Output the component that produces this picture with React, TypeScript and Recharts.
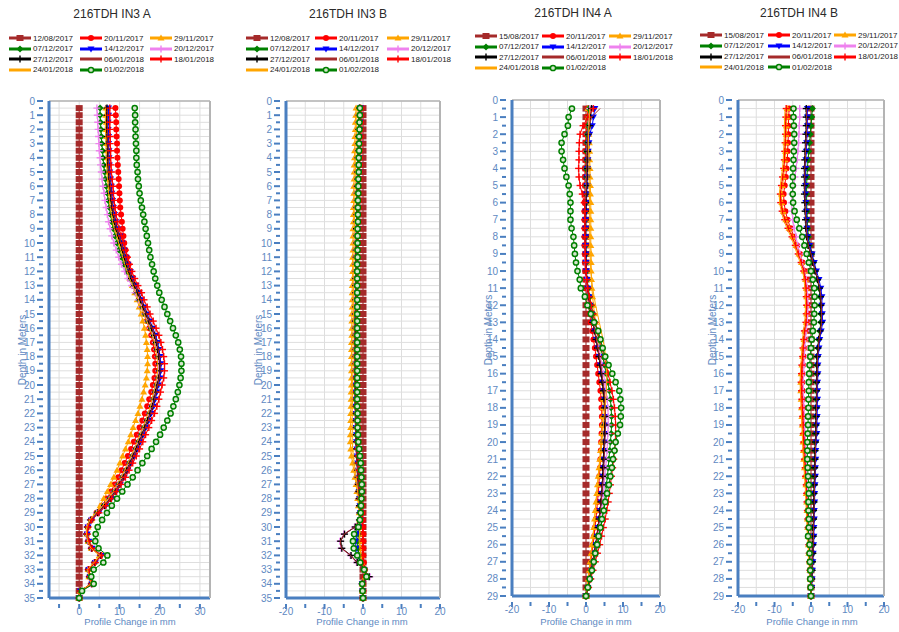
import { ScatterChart, Scatter, XAxis, YAxis, CartesianGrid } from 'recharts';

// Depth stations (m) – also used as the 0.5 m depth ticks
const DEPTH_IN3 = [0.5, 1, 1.5, 2, 2.5, 3, 3.5, 4, 4.5, 5, 5.5, 6, 6.5, 7, 7.5, 8, 8.5, 9, 9.5, 10, 10.5, 11, 11.5, 12, 12.5, 13, 13.5, 14, 14.5, 15, 15.5, 16, 16.5, 17, 17.5, 18, 18.5, 19, 19.5, 20, 20.5, 21, 21.5, 22, 22.5, 23, 23.5, 24, 24.5, 25, 25.5, 26, 26.5, 27, 27.5, 28, 28.5, 29, 29.5, 30, 30.5, 31, 31.5, 32, 32.5, 33, 33.5, 34, 34.5, 35];
const DEPTH_IN4 = [0.5, 1, 1.5, 2, 2.5, 3, 3.5, 4, 4.5, 5, 5.5, 6, 6.5, 7, 7.5, 8, 8.5, 9, 9.5, 10, 10.5, 11, 11.5, 12, 12.5, 13, 13.5, 14, 14.5, 15, 15.5, 16, 16.5, 17, 17.5, 18, 18.5, 19, 19.5, 20, 20.5, 21, 21.5, 22, 22.5, 23, 23.5, 24, 24.5, 25, 25.5, 26, 26.5, 27, 27.5, 28, 28.5, 29];

const DATES_IN3 = ['12/08/2017', '20/11/2017', '29/11/2017', '07/12/2017', '14/12/2017', '20/12/2017', '27/12/2017', '06/01/2018', '18/01/2018', '24/01/2018', '01/02/2018'];
const DATES_IN4 = ['15/08/2017', '20/11/2017', '29/11/2017', '07/12/2017', '14/12/2017', '20/12/2017', '27/12/2017', '06/01/2018', '18/01/2018', '24/01/2018', '01/02/2018'];

const X_TICKS_IN3A = [-5, 0, 5, 10, 15, 20, 25, 30];
const X_TICKS = [-20, -15, -10, -5, 0, 5, 10, 15, 20];

// ---- 216TDH IN3 A (profile change, mm) ----
const A_1208 = [0, 0, 0, 0, 0, 0, 0, 0, 0, 0, 0, 0, 0, 0, 0, 0, 0, 0, 0, 0, 0, 0, 0, 0, 0, 0, 0, 0, 0, 0, 0, 0, 0, 0, 0, 0, 0, 0, 0, 0, 0, 0, 0, 0, 0, 0, 0, 0, 0, 0, 0, 0, 0, 0, 0, 0, 0, 0, 0, 0, 0, 0, 0, 0, 0, 0, 0, 0, 0, 0];
const A_2011 = [9.0, 9.1, 9.2, 9.2, 9.3, 9.4, 9.4, 9.5, 9.6, 9.7, 9.8, 9.9, 10.0, 10.1, 10.2, 10.4, 10.6, 10.8, 11.0, 11.2, 11.5, 11.9, 12.3, 12.7, 13.2, 13.8, 14.4, 15.0, 15.6, 16.2, 16.8, 17.4, 17.9, 18.3, 18.6, 18.8, 18.9, 18.9, 18.7, 18.3, 17.9, 17.4, 16.9, 16.3, 15.7, 15.0, 14.3, 13.6, 12.9, 12.1, 11.3, 10.5, 9.7, 8.8, 7.9, 6.8, 5.6, 4.3, 2.9, 2.1, 1.9, 2.2, 3.0, 5.2, 3.8, 2.2, 2.5, 3.0, 0.3, 0];
const A_2911 = [6.6, 6.6, 6.7, 6.7, 6.8, 6.8, 6.9, 6.9, 7.0, 7.1, 7.3, 7.4, 7.6, 7.8, 8.0, 8.3, 8.6, 9.0, 9.5, 10.0, 10.5, 11.0, 11.5, 12.0, 12.6, 13.2, 13.8, 14.4, 14.9, 15.4, 15.8, 16.2, 16.5, 16.7, 16.9, 17.0, 17.0, 16.9, 16.7, 16.4, 16.0, 15.6, 15.1, 14.6, 14.0, 13.4, 12.8, 12.2, 11.5, 10.8, 10.1, 9.4, 8.6, 7.8, 7.0, 6.1, 5.2, 4.2, 3.0, 2.2, 1.9, 2.2, 3.0, 5.0, 3.7, 2.2, 2.4, 2.8, 0.3, 0];
const A_0712 = [5.2, 5.2, 5.3, 5.4, 5.5, 5.6, 5.8, 5.9, 6.1, 6.3, 6.5, 6.7, 7.0, 7.2, 7.5, 7.8, 8.1, 8.5, 8.9, 9.4, 9.9, 10.5, 11.1, 11.8, 12.5, 13.3, 14.1, 14.8, 15.6, 16.3, 17.0, 17.7, 18.4, 18.9, 19.3, 19.6, 19.8, 19.8, 19.6, 19.2, 18.8, 18.4, 18.0, 17.4, 16.8, 16.1, 15.4, 14.7, 14.0, 13.2, 12.4, 11.6, 10.7, 9.7, 8.7, 7.5, 6.1, 4.4, 2.8, 2.0, 1.8, 2.2, 3.0, 5.3, 3.8, 2.2, 2.5, 3.0, 0.3, 0];
const A_1412 = [7.3, 7.3, 7.2, 7.2, 7.3, 7.3, 7.4, 7.4, 7.5, 7.6, 7.8, 8.0, 8.1, 8.3, 8.5, 8.8, 9.1, 9.5, 10.1, 10.6, 11.1, 11.6, 12.1, 12.7, 13.3, 14.1, 14.9, 15.5, 16.2, 16.9, 17.6, 18.3, 19.0, 19.5, 19.8, 20.1, 20.3, 20.3, 20.1, 19.7, 19.3, 18.9, 18.5, 17.9, 17.3, 16.6, 15.9, 15.2, 14.5, 13.7, 12.9, 12.1, 11.2, 10.2, 9.2, 8.0, 6.6, 4.9, 3.1, 2.2, 2.0, 2.4, 3.2, 5.5, 4.0, 2.4, 2.7, 3.2, 0.3, 0];
const A_2012 = [4.4, 4.5, 4.6, 4.7, 4.8, 4.9, 5.0, 5.2, 5.3, 5.5, 5.7, 5.9, 6.2, 6.4, 6.7, 7.0, 7.3, 7.7, 8.1, 8.6, 9.2, 9.8, 10.5, 11.3, 12.1, 13.0, 13.9, 14.7, 15.5, 16.3, 17.0, 17.7, 18.4, 18.9, 19.3, 19.6, 19.8, 19.8, 19.6, 19.2, 18.8, 18.4, 18.0, 17.4, 16.8, 16.1, 15.4, 14.7, 14.0, 13.2, 12.4, 11.6, 10.7, 9.7, 8.7, 7.5, 6.1, 4.4, 2.7, 1.9, 1.7, 2.1, 2.9, 5.2, 3.7, 2.1, 2.4, 2.9, 0.3, 0];
const A_2712 = [6.9, 6.9, 6.9, 6.9, 7.0, 7.0, 7.1, 7.1, 7.2, 7.3, 7.5, 7.7, 7.8, 8.0, 8.2, 8.5, 8.8, 9.2, 9.8, 10.3, 10.8, 11.3, 11.8, 12.4, 13.0, 13.8, 14.6, 15.2, 15.9, 16.6, 17.3, 18.0, 18.7, 19.2, 19.5, 19.8, 20.0, 20.0, 19.8, 19.4, 19.0, 18.6, 18.2, 17.6, 17.0, 16.3, 15.6, 14.9, 14.2, 13.4, 12.6, 11.8, 10.9, 9.9, 8.9, 7.7, 6.3, 4.6, 2.9, 2.1, 1.9, 2.3, 3.1, 5.4, 3.9, 2.3, 2.6, 3.1, 0.3, 0];
const A_0601 = [7.0, 7.0, 7.0, 7.0, 7.1, 7.1, 7.2, 7.2, 7.3, 7.4, 7.6, 7.8, 7.9, 8.1, 8.3, 8.6, 8.9, 9.3, 9.9, 10.4, 10.9, 11.4, 11.9, 12.5, 13.1, 13.9, 14.7, 15.3, 16.0, 16.7, 17.4, 18.1, 18.8, 19.3, 19.6, 19.9, 20.1, 20.1, 19.9, 19.5, 19.1, 18.7, 18.3, 17.7, 17.1, 16.4, 15.7, 15.0, 14.3, 13.5, 12.7, 11.9, 11.0, 10.0, 9.0, 7.8, 6.4, 4.7, 3.0, 2.1, 1.9, 2.3, 3.1, 5.4, 3.9, 2.3, 2.6, 3.1, 0.3, 0];
const A_1801 = [7.6, 7.6, 7.6, 7.6, 7.7, 7.7, 7.8, 7.8, 7.9, 8.0, 8.2, 8.4, 8.5, 8.7, 8.9, 9.2, 9.5, 9.9, 10.5, 11.0, 11.5, 12.0, 12.5, 13.1, 13.8, 14.6, 15.5, 16.1, 16.9, 17.6, 18.4, 19.1, 19.8, 20.3, 20.7, 21.0, 21.2, 21.2, 21.0, 20.6, 20.2, 19.8, 19.3, 18.7, 18.0, 17.3, 16.5, 15.8, 15.0, 14.2, 13.3, 12.4, 11.5, 10.4, 9.3, 8.0, 6.6, 4.9, 3.1, 2.2, 2.0, 2.4, 3.2, 5.6, 4.0, 2.4, 2.7, 3.2, 0.3, 0];
const A_2401 = [6.5, 6.5, 6.5, 6.5, 6.6, 6.6, 6.7, 6.7, 6.8, 6.9, 7.0, 7.2, 7.3, 7.5, 7.7, 8.0, 8.3, 8.7, 9.3, 9.8, 10.3, 10.8, 11.3, 11.9, 12.5, 13.3, 14.1, 14.7, 15.4, 16.1, 16.8, 17.5, 18.2, 18.7, 19.0, 19.3, 19.5, 19.5, 19.3, 18.9, 18.5, 18.1, 17.7, 17.1, 16.5, 15.8, 15.1, 14.4, 13.7, 12.9, 12.1, 11.3, 10.4, 9.4, 8.4, 7.2, 5.8, 4.1, 2.6, 1.9, 1.8, 2.1, 2.9, 5.2, 3.7, 2.1, 2.4, 3.0, 0.3, 0];
const A_0102 = [13.8, 13.9, 13.9, 14.0, 14.0, 14.1, 14.2, 14.2, 14.3, 14.5, 14.6, 14.8, 15.0, 15.3, 15.6, 15.9, 16.2, 16.5, 16.8, 17.1, 17.4, 17.7, 18.1, 18.5, 18.9, 19.4, 19.9, 20.5, 21.2, 21.9, 22.6, 23.3, 24.0, 24.6, 25.0, 25.3, 25.4, 25.4, 25.2, 24.9, 24.5, 24.0, 23.4, 22.7, 21.9, 21.0, 20.1, 19.1, 18.0, 16.9, 15.7, 14.5, 13.3, 12.0, 10.7, 9.4, 8.1, 6.9, 5.7, 4.6, 4.1, 4.0, 4.8, 7.0, 6.0, 3.6, 3.0, 3.6, 0.7, 0];

// ---- 216TDH IN3 B ----
const B_1208 = [0, 0, 0, 0, 0, 0, 0, 0, 0, 0, 0, 0, 0, 0, 0, 0, 0, 0, 0, 0, 0, 0, 0, 0, 0, 0, 0, 0, 0, 0, 0, 0, 0, 0, 0, 0, 0, 0, 0, 0, 0, 0, 0, 0, 0, 0, 0, 0, 0, 0, 0, 0, 0, 0, 0, 0, 0, 0, 0, 0, 0, 0, 0, 0, 0, 0, 0, 0, 0, 0];
const B_2011 = [-0.4, -0.5, -0.5, -0.6, -0.6, -0.7, -0.7, -0.8, -0.8, -0.9, -0.9, -1.0, -1.0, -1.0, -1.1, -1.1, -1.1, -1.2, -1.2, -1.2, -1.2, -1.3, -1.3, -1.3, -1.3, -1.3, -1.4, -1.4, -1.4, -1.4, -1.4, -1.4, -1.5, -1.5, -1.5, -1.5, -1.5, -1.5, -1.4, -1.4, -1.4, -1.4, -1.3, -1.3, -1.3, -1.2, -1.2, -1.1, -1.0, -0.9, -0.8, -0.7, -0.6, -0.5, -0.4, -0.3, -0.2, -0.2, -0.1, 0.0, 0.0, 0.0, 0.0, 0.0, 0.2, 0.5, 0.6, -0.1, 0.0, 0];
const B_2911 = [-1.8, -1.9, -2.0, -2.0, -2.1, -2.1, -2.2, -2.2, -2.3, -2.3, -2.3, -2.4, -2.4, -2.4, -2.5, -2.5, -2.5, -2.6, -2.6, -2.6, -2.6, -2.7, -2.7, -2.7, -2.7, -2.8, -2.8, -2.8, -2.8, -2.9, -2.9, -2.9, -2.9, -3.0, -3.0, -3.0, -3.0, -3.0, -3.0, -3.0, -3.1, -3.1, -3.1, -3.2, -3.2, -3.2, -3.3, -3.3, -3.2, -3.0, -2.7, -2.4, -2.1, -1.8, -1.6, -1.4, -1.2, -1.0, -0.9, -0.8, -0.8, -0.9, -0.7, -0.5, -0.3, 0.3, 0.6, -0.2, -0.1, 0];
const B_0712 = [-0.9, -1.0, -1.0, -1.1, -1.1, -1.2, -1.2, -1.3, -1.3, -1.4, -1.4, -1.5, -1.5, -1.5, -1.6, -1.6, -1.6, -1.7, -1.7, -1.7, -1.7, -1.8, -1.8, -1.8, -1.8, -1.9, -1.9, -1.9, -1.9, -1.9, -2.0, -2.0, -2.0, -2.0, -2.0, -2.0, -2.0, -2.0, -2.0, -2.0, -2.0, -2.0, -1.9, -1.9, -1.9, -1.8, -1.8, -1.7, -1.6, -1.5, -1.4, -1.3, -1.2, -1.1, -1.0, -0.9, -0.9, -0.8, -0.8, -0.9, -1.2, -1.4, -1.3, -1.0, -0.5, 0.3, 0.8, -0.2, -0.1, 0];
const B_1412 = [-0.7, -0.8, -0.8, -0.9, -1.0, -1.0, -1.1, -1.1, -1.2, -1.2, -1.3, -1.3, -1.4, -1.4, -1.4, -1.5, -1.5, -1.5, -1.6, -1.6, -1.6, -1.7, -1.7, -1.7, -1.7, -1.8, -1.8, -1.8, -1.8, -1.8, -1.9, -1.9, -1.9, -1.9, -1.9, -1.9, -1.9, -1.9, -1.9, -1.9, -1.9, -1.9, -1.9, -1.8, -1.8, -1.8, -1.7, -1.7, -1.6, -1.5, -1.4, -1.3, -1.2, -1.1, -1.0, -0.9, -0.8, -0.7, -0.7, -1.0, -1.6, -1.9, -1.8, -1.3, -0.7, 0.3, 1.0, -0.2, -0.1, 0];
const B_2012 = [-1.0, -1.1, -1.1, -1.2, -1.2, -1.3, -1.3, -1.4, -1.4, -1.5, -1.5, -1.6, -1.6, -1.6, -1.7, -1.7, -1.7, -1.8, -1.8, -1.8, -1.9, -1.9, -1.9, -1.9, -2.0, -2.0, -2.0, -2.0, -2.0, -2.1, -2.1, -2.1, -2.1, -2.1, -2.1, -2.1, -2.1, -2.1, -2.1, -2.1, -2.1, -2.1, -2.1, -2.0, -2.0, -2.0, -1.9, -1.9, -1.8, -1.7, -1.6, -1.5, -1.4, -1.3, -1.2, -1.1, -1.0, -0.9, -1.0, -2.2, -5.0, -6.0, -5.7, -3.3, -1.7, 0.3, 1.8, -0.3, -0.1, 0];
const B_2712 = [-0.9, -1.0, -1.0, -1.1, -1.1, -1.2, -1.2, -1.3, -1.3, -1.4, -1.4, -1.5, -1.5, -1.5, -1.6, -1.6, -1.6, -1.7, -1.7, -1.7, -1.8, -1.8, -1.8, -1.8, -1.9, -1.9, -1.9, -1.9, -1.9, -2.0, -2.0, -2.0, -2.0, -2.0, -2.0, -2.0, -2.0, -2.0, -2.0, -2.0, -2.0, -2.0, -2.0, -1.9, -1.9, -1.9, -1.8, -1.8, -1.7, -1.6, -1.5, -1.4, -1.3, -1.2, -1.1, -1.0, -0.9, -0.8, -0.9, -2.0, -4.8, -5.8, -5.5, -3.1, -1.5, 0.3, 1.6, -0.2, -0.1, 0];
const B_0601 = [-1.0, -1.0, -1.1, -1.1, -1.2, -1.2, -1.3, -1.3, -1.4, -1.4, -1.5, -1.5, -1.5, -1.6, -1.6, -1.6, -1.7, -1.7, -1.7, -1.8, -1.8, -1.8, -1.9, -1.9, -1.9, -1.9, -2.0, -2.0, -2.0, -2.0, -2.0, -2.1, -2.1, -2.1, -2.1, -2.1, -2.1, -2.1, -2.1, -2.1, -2.1, -2.0, -2.0, -2.0, -2.0, -1.9, -1.9, -1.8, -1.7, -1.6, -1.5, -1.4, -1.3, -1.2, -1.1, -1.0, -0.9, -0.8, -0.9, -2.1, -4.9, -5.9, -5.6, -3.2, -1.6, 0.3, 1.7, -0.2, -0.1, 0];
const B_1801 = [-0.6, -0.7, -0.7, -0.8, -0.8, -0.9, -0.9, -1.0, -1.0, -1.1, -1.1, -1.2, -1.2, -1.2, -1.3, -1.3, -1.3, -1.4, -1.4, -1.4, -1.4, -1.5, -1.5, -1.5, -1.5, -1.5, -1.6, -1.6, -1.6, -1.6, -1.6, -1.6, -1.6, -1.7, -1.7, -1.7, -1.7, -1.7, -1.7, -1.6, -1.6, -1.6, -1.6, -1.5, -1.5, -1.5, -1.4, -1.4, -1.3, -1.2, -1.1, -1.0, -0.9, -0.8, -0.7, -0.6, -0.5, -0.4, -0.3, -0.1, 0.0, 0.0, 0.0, 0.0, 0.1, 0.4, 0.6, -0.1, 0.0, 0];
const B_2401 = [-1.5, -1.6, -1.6, -1.7, -1.7, -1.8, -1.8, -1.9, -1.9, -2.0, -2.0, -2.0, -2.1, -2.1, -2.1, -2.2, -2.2, -2.2, -2.3, -2.3, -2.3, -2.3, -2.4, -2.4, -2.4, -2.4, -2.5, -2.5, -2.5, -2.5, -2.5, -2.6, -2.6, -2.6, -2.6, -2.6, -2.6, -2.6, -2.7, -2.7, -2.7, -2.7, -2.8, -2.8, -2.8, -2.8, -2.8, -2.8, -2.7, -2.5, -2.3, -2.0, -1.8, -1.6, -1.4, -1.2, -1.1, -1.0, -0.9, -0.9, -0.9, -1.0, -0.8, -0.6, -0.3, 0.3, 0.6, -0.2, -0.1, 0];
const B_0102 = [-0.8, -0.8, -0.9, -0.9, -1.0, -1.0, -1.0, -1.1, -1.1, -1.1, -1.2, -1.2, -1.2, -1.3, -1.3, -1.3, -1.3, -1.4, -1.4, -1.4, -1.4, -1.4, -1.5, -1.5, -1.5, -1.5, -1.5, -1.5, -1.5, -1.5, -1.5, -1.5, -1.5, -1.5, -1.5, -1.5, -1.5, -1.5, -1.5, -1.5, -1.5, -1.5, -1.5, -1.4, -1.4, -1.4, -1.3, -1.2, -1.0, -0.8, -0.6, -0.5, -0.4, -0.3, -0.3, -0.4, -0.5, -0.6, -0.8, -1.2, -2.3, -2.6, -2.4, -1.5, -0.7, 0.3, 0.9, -0.2, -0.1, 0];

// ---- 216TDH IN4 A ----
const C_1508 = [0, 0, 0, 0, 0, 0, 0, 0, 0, 0, 0, 0, 0, 0, 0, 0, 0, 0, 0, 0, 0, 0, 0, 0, 0, 0, 0, 0, 0, 0, 0, 0, 0, 0, 0, 0, 0, 0, 0, 0, 0, 0, 0, 0, 0, 0, 0, 0, 0, 0, 0, 0, 0, 0, 0, 0, 0, 0];
const C_2011 = [0.5, 0.3, 0.2, 0.0, -0.1, -0.2, -0.2, -0.3, -0.3, -0.3, -0.3, -0.4, -0.4, -0.4, -0.4, -0.4, -0.4, -0.3, -0.3, -0.2, -0.1, 0.1, 0.4, 0.7, 1.0, 1.3, 1.7, 2.0, 2.4, 2.7, 3.0, 3.3, 3.6, 3.9, 4.1, 4.2, 4.3, 4.3, 4.2, 4.1, 4.0, 3.9, 3.8, 3.6, 3.5, 3.3, 3.1, 2.9, 2.7, 2.4, 2.2, 1.9, 1.6, 1.3, 1.0, 0.7, 0.3, 0];
const C_2911 = [0.5, 0.6, 0.7, 0.8, 0.9, 1.0, 1.0, 1.1, 1.1, 1.2, 1.2, 1.3, 1.3, 1.3, 1.3, 1.3, 1.3, 1.4, 1.4, 1.4, 1.5, 1.6, 1.8, 2.0, 2.3, 2.6, 3.0, 3.3, 3.6, 3.9, 4.1, 4.3, 4.5, 4.6, 4.6, 4.6, 4.5, 4.4, 4.3, 4.1, 3.9, 3.7, 3.5, 3.3, 3.1, 2.9, 2.7, 2.5, 2.3, 2.1, 1.9, 1.6, 1.4, 1.1, 0.9, 0.6, 0.3, 0];
const C_0712 = [0.8, 0.6, 0.5, 0.3, 0.2, 0.1, 0.1, 0.0, 0.0, 0.0, 0.0, 0.0, -0.1, -0.1, -0.1, -0.1, -0.1, 0.0, 0.0, 0.1, 0.3, 0.6, 1.0, 1.4, 1.9, 2.4, 3.0, 3.5, 4.0, 4.5, 5.0, 5.5, 5.9, 6.3, 6.6, 6.8, 6.9, 6.9, 6.8, 6.6, 6.4, 6.2, 6.0, 5.8, 5.5, 5.3, 5.0, 4.7, 4.4, 4.0, 3.6, 3.2, 2.7, 2.2, 1.7, 1.2, 0.6, 0];
const C_1412 = [2.4, 2.0, 1.7, 1.0, 0.8, 0.6, 0.5, 0.4, 0.3, 0.3, 0.2, 0.1, 0.0, -0.1, -0.1, -0.1, -0.1, 0.0, 0.0, 0.1, 0.3, 0.5, 0.8, 1.1, 1.5, 1.9, 2.4, 2.8, 3.2, 3.6, 3.9, 4.2, 4.5, 4.8, 5.0, 5.1, 5.2, 5.2, 5.1, 5.0, 4.9, 4.8, 4.7, 4.6, 4.5, 4.3, 4.1, 3.9, 3.6, 3.3, 3.0, 2.6, 2.2, 1.8, 1.4, 1.0, 0.5, 0];
const C_2012 = [1.0, 0.8, 0.7, 0.5, 0.4, 0.3, 0.2, 0.2, 0.1, 0.1, 0.0, -0.1, -0.2, -0.3, -0.3, -0.3, -0.3, -0.2, -0.2, -0.1, 0.1, 0.3, 0.6, 1.0, 1.4, 1.9, 2.4, 2.9, 3.4, 3.9, 4.3, 4.7, 5.1, 5.4, 5.7, 5.9, 6.0, 6.0, 5.9, 5.8, 5.7, 5.5, 5.3, 5.1, 4.9, 4.7, 4.5, 4.2, 3.9, 3.5, 3.2, 2.8, 2.4, 2.0, 1.5, 1.1, 0.6, 0];
const C_2712 = [1.5, 1.2, 1.0, 0.6, 0.5, 0.4, 0.3, 0.3, 0.2, 0.2, 0.1, 0.0, -0.1, -0.2, -0.2, -0.2, -0.2, -0.1, -0.1, 0.0, 0.2, 0.4, 0.7, 1.0, 1.4, 1.8, 2.3, 2.7, 3.1, 3.5, 3.8, 4.1, 4.4, 4.7, 4.9, 5.0, 5.1, 5.1, 5.0, 4.9, 4.8, 4.7, 4.6, 4.5, 4.4, 4.2, 4.0, 3.8, 3.5, 3.2, 2.9, 2.6, 2.2, 1.8, 1.4, 1.0, 0.5, 0];
const C_0601 = [3.8, 1.5, 0.8, 0.5, 0.4, 0.3, 0.2, 0.2, 0.1, 0.1, 0.0, -0.1, -0.2, -0.2, -0.3, -0.3, -0.2, -0.2, -0.1, 0.0, 0.2, 0.4, 0.7, 1.1, 1.5, 1.9, 2.4, 2.8, 3.2, 3.6, 4.0, 4.3, 4.6, 4.9, 5.1, 5.2, 5.3, 5.3, 5.2, 5.1, 5.0, 4.9, 4.8, 4.7, 4.5, 4.3, 4.1, 3.9, 3.6, 3.3, 3.0, 2.7, 2.3, 1.9, 1.5, 1.0, 0.5, 0];
const C_1801 = [2.0, 0.5, -0.8, -1.6, -1.8, -1.9, -1.9, -2.0, -1.9, -1.6, -1.0, -0.5, -0.3, -0.3, -0.3, -0.3, -0.2, -0.2, -0.1, 0.0, 0.2, 0.5, 0.9, 1.4, 1.9, 2.5, 3.1, 3.7, 4.3, 4.9, 5.5, 6.0, 6.5, 7.0, 7.4, 7.7, 7.9, 8.0, 8.0, 7.9, 7.7, 7.5, 7.2, 6.9, 6.6, 6.3, 6.0, 5.6, 5.2, 4.7, 4.2, 3.7, 3.1, 2.5, 1.9, 1.3, 0.7, 0];
const C_2401 = [1.0, 0.9, 0.8, 0.7, 0.7, 0.7, 0.8, 0.8, 0.8, 0.9, 0.9, 1.0, 1.0, 1.0, 1.0, 1.0, 1.1, 1.1, 1.2, 1.3, 1.5, 1.8, 2.2, 2.6, 3.1, 3.6, 4.1, 4.6, 5.0, 5.3, 5.5, 5.6, 5.6, 5.5, 5.3, 5.1, 4.9, 4.7, 4.5, 4.3, 4.1, 3.9, 3.6, 3.4, 3.1, 2.9, 2.7, 2.5, 2.3, 2.1, 1.9, 1.7, 1.4, 1.1, 0.8, 0.5, 0.3, 0];
const C_0102 = [-3.8, -4.7, -4.9, -5.8, -6.6, -6.6, -6.2, -5.8, -5.3, -4.7, -4.4, -4.2, -4.2, -4.2, -3.9, -3.4, -3.2, -3.0, -2.7, -2.3, -1.7, -1.4, -0.3, 0.4, 1.3, 2.2, 3.3, 3.9, 4.5, 5.2, 6.1, 7.1, 8.0, 9.0, 9.3, 9.5, 9.4, 9.2, 8.6, 8.0, 7.7, 7.3, 7.0, 6.6, 6.2, 5.7, 5.2, 4.8, 4.3, 3.9, 3.4, 3.0, 2.5, 2.1, 1.6, 1.0, 0.5, 0];

// ---- 216TDH IN4 B ----
const D_1508 = [0, 0, 0, 0, 0, 0, 0, 0, 0, 0, 0, 0, 0, 0, 0, 0, 0, 0, 0, 0, 0, 0, 0, 0, 0, 0, 0, 0, 0, 0, 0, 0, 0, 0, 0, 0, 0, 0, 0, 0, 0, 0, 0, 0, 0, 0, 0, 0, 0, 0, 0, 0, 0, 0, 0, 0, 0, 0];
const D_2011 = [-6.0, -6.1, -6.2, -6.2, -6.3, -6.4, -6.5, -6.7, -6.9, -7.2, -7.5, -7.4, -7.0, -6.4, -5.6, -4.6, -3.8, -3.0, -2.3, -1.7, -1.3, -1.1, -1.0, -0.9, -1.0, -1.1, -1.5, -1.7, -1.9, -2.0, -2.2, -2.3, -2.4, -2.3, -2.2, -2.1, -2.0, -1.9, -1.8, -1.7, -1.6, -1.5, -1.4, -1.3, -1.2, -1.1, -1.0, -0.9, -0.8, -0.7, -0.6, -0.5, -0.4, -0.3, -0.2, -0.1, -0.1, 0];
const D_2911 = [-6.5, -6.6, -6.7, -6.8, -6.9, -7.0, -7.1, -7.3, -7.5, -7.8, -8.1, -8.0, -7.6, -6.9, -6.0, -5.0, -4.1, -3.3, -2.6, -1.9, -1.5, -1.3, -1.2, -1.1, -1.2, -1.3, -1.7, -1.9, -2.1, -2.3, -2.5, -2.7, -2.8, -2.8, -2.7, -2.6, -2.5, -2.4, -2.3, -2.2, -2.1, -2.0, -1.8, -1.6, -1.4, -1.3, -1.2, -1.1, -1.0, -0.9, -0.8, -0.7, -0.6, -0.4, -0.3, -0.2, -0.1, 0];
const D_0712 = [0.4, 0.2, 0.0, -0.2, -0.4, -0.6, -0.8, -1.0, -1.1, -1.2, -1.2, -1.2, -1.1, -1.0, -0.9, -0.7, -0.3, 0.2, 0.7, 1.2, 1.8, 2.2, 2.5, 2.6, 2.7, 2.7, 2.4, 2.1, 1.9, 1.7, 1.6, 1.6, 1.6, 1.5, 1.5, 1.5, 1.4, 1.4, 1.3, 1.2, 1.1, 1.0, 1.0, 0.9, 0.9, 0.8, 0.8, 0.7, 0.7, 0.6, 0.6, 0.5, 0.5, 0.4, 0.3, 0.2, 0.1, 0];
const D_1412 = [-1.0, -1.0, -1.0, -1.1, -1.2, -1.3, -1.4, -1.5, -1.5, -1.5, -1.5, -1.4, -1.3, -1.2, -1.1, -0.9, -0.4, 0.3, 0.9, 1.5, 2.2, 2.7, 3.0, 3.0, 3.1, 3.2, 2.8, 2.4, 2.2, 2.0, 1.9, 1.9, 1.8, 1.8, 1.8, 1.7, 1.7, 1.6, 1.6, 1.4, 1.3, 1.3, 1.2, 1.2, 1.1, 1.0, 1.0, 0.9, 0.9, 0.8, 0.8, 0.7, 0.6, 0.5, 0.4, 0.3, 0.2, 0];
const D_2012 = [-3.1, -3.1, -3.2, -3.3, -3.4, -3.6, -3.8, -4.1, -4.4, -4.8, -5.2, -5.3, -5.2, -5.0, -4.6, -4.1, -3.6, -3.0, -2.4, -1.8, -1.3, -1.0, -0.9, -0.8, -0.9, -1.0, -1.3, -1.5, -1.7, -1.8, -1.9, -2.0, -2.1, -2.1, -2.0, -1.9, -1.8, -1.7, -1.6, -1.5, -1.4, -1.3, -1.2, -1.1, -1.0, -0.9, -0.9, -0.8, -0.7, -0.6, -0.6, -0.5, -0.4, -0.3, -0.2, -0.1, -0.1, 0];
const D_2712 = [-1.3, -1.3, -1.3, -1.4, -1.5, -1.6, -1.7, -1.8, -1.8, -1.8, -1.8, -1.7, -1.6, -1.5, -1.4, -1.2, -0.8, -0.1, 0.5, 1.1, 1.8, 2.3, 2.6, 2.7, 2.8, 2.8, 2.5, 2.1, 1.9, 1.7, 1.6, 1.6, 1.5, 1.5, 1.5, 1.4, 1.4, 1.3, 1.3, 1.2, 1.1, 1.1, 1.0, 1.0, 0.9, 0.8, 0.8, 0.7, 0.7, 0.6, 0.6, 0.5, 0.5, 0.4, 0.3, 0.2, 0.1, 0];
const D_0601 = [-1.2, -1.2, -1.2, -1.3, -1.4, -1.5, -1.6, -1.7, -1.7, -1.7, -1.7, -1.6, -1.5, -1.4, -1.3, -1.1, -0.7, 0.0, 0.6, 1.2, 1.9, 2.4, 2.7, 2.8, 2.9, 2.9, 2.6, 2.2, 2.0, 1.8, 1.7, 1.7, 1.6, 1.6, 1.6, 1.5, 1.5, 1.4, 1.4, 1.3, 1.2, 1.2, 1.1, 1.1, 1.0, 0.9, 0.9, 0.8, 0.8, 0.7, 0.7, 0.6, 0.5, 0.4, 0.3, 0.2, 0.1, 0];
const D_1801 = [-6.8, -6.9, -7.0, -7.0, -7.1, -7.2, -7.3, -7.5, -7.8, -8.1, -8.4, -8.3, -7.9, -7.2, -6.3, -5.2, -4.3, -3.5, -2.7, -2.0, -1.6, -1.4, -1.3, -1.2, -1.3, -1.4, -1.8, -2.0, -2.2, -2.3, -2.5, -2.6, -2.7, -2.6, -2.5, -2.4, -2.3, -2.2, -2.1, -2.0, -1.9, -1.8, -1.6, -1.5, -1.3, -1.2, -1.1, -1.0, -0.9, -0.8, -0.7, -0.6, -0.5, -0.4, -0.3, -0.2, -0.1, 0];
const D_2401 = [-7.1, -7.2, -7.3, -7.3, -7.4, -7.5, -7.6, -7.8, -8.1, -8.4, -8.7, -8.6, -8.2, -7.5, -6.6, -5.5, -4.6, -3.8, -3.0, -2.3, -1.9, -1.7, -1.6, -1.5, -1.6, -1.7, -2.1, -2.3, -2.5, -2.6, -2.8, -2.9, -3.0, -2.9, -2.8, -2.7, -2.6, -2.5, -2.4, -2.3, -2.2, -2.1, -1.9, -1.8, -1.6, -1.5, -1.4, -1.3, -1.2, -1.1, -1.0, -0.8, -0.7, -0.6, -0.4, -0.3, -0.1, 0];
const D_0102 = [-4.8, -4.8, -4.7, -4.6, -4.6, -4.7, -4.8, -4.9, -5.0, -5.0, -5.0, -4.9, -4.5, -3.9, -3.2, -2.4, -1.8, -1.2, -0.6, 0.0, 0.5, 0.9, 1.0, 1.0, 0.9, 0.8, 0.5, 0.2, 0.0, -0.2, -0.4, -0.5, -0.6, -0.6, -0.7, -0.7, -0.8, -0.8, -0.9, -1.0, -1.0, -1.0, -0.9, -0.8, -0.6, -0.6, -0.7, -0.7, -0.6, -0.6, -0.8, -0.4, -0.4, -0.3, -0.2, -0.2, -0.1, 0];

const AXIS_BLUE = '#4a7fc0';
const TEXT_BLUE = '#6089c2';
const FONT = "'Liberation Sans', Arial, sans-serif";

type MarkerKind = 'square' | 'circle' | 'triangle' | 'diamond' | 'triangleDown' | 'plus' | 'none' | 'ring';

// one style per survey date, same order as the dates
const SERIES_STYLE: { color: string; marker: MarkerKind }[] = [
  { color: '#a52a2a', marker: 'square' },
  { color: '#ff0000', marker: 'circle' },
  { color: '#ffa500', marker: 'triangle' },
  { color: '#008000', marker: 'diamond' },
  { color: '#0000ff', marker: 'triangleDown' },
  { color: '#ee82ee', marker: 'plus' },
  { color: '#000000', marker: 'plus' },
  { color: '#a52a2a', marker: 'none' },
  { color: '#ff0000', marker: 'plus' },
  { color: '#ffa500', marker: 'none' },
  { color: '#008000', marker: 'ring' },
];

function Marker({ kind, color, cx, cy }: { kind: MarkerKind; color: string; cx: number; cy: number }) {
  switch (kind) {
    case 'square':
      return <rect x={cx - 3.5} y={cy - 3} width={7} height={6} fill={color} />;
    case 'circle':
      return <circle cx={cx} cy={cy} r={3} fill={color} />;
    case 'triangle':
      return <polygon points={`${cx},${cy - 3.5} ${cx + 3.5},${cy + 2.5} ${cx - 3.5},${cy + 2.5}`} fill={color} />;
    case 'triangleDown':
      return <polygon points={`${cx - 3.5},${cy - 2.5} ${cx + 3.5},${cy - 2.5} ${cx},${cy + 3.5}`} fill={color} />;
    case 'diamond':
      return <polygon points={`${cx},${cy - 3.5} ${cx + 3.5},${cy} ${cx},${cy + 3.5} ${cx - 3.5},${cy}`} fill={color} />;
    case 'plus':
      return (
        <g stroke={color} strokeWidth={1.4}>
          <line x1={cx - 3.5} x2={cx + 3.5} y1={cy} y2={cy} />
          <line x1={cx} x2={cx} y1={cy - 3.5} y2={cy + 3.5} />
        </g>
      );
    case 'ring':
      return <circle cx={cx} cy={cy} r={2.6} fill="#d5e4cc" stroke={color} strokeWidth={1.5} />;
    default:
      return <g />;
  }
}

function DepthTick({ x, y, payload }: any) {
  const v = payload.value;
  const major = Number.isInteger(v);
  return (
    <g>
      <line x1={x - (major ? 6 : 4)} x2={x} y1={y} y2={y} stroke={AXIS_BLUE} strokeWidth={2} />
      {major && (
        <text x={x - 8} y={y} dy="0.35em" textAnchor="end" fill={TEXT_BLUE} fontSize={10} fontFamily={FONT}>
          {v}
        </text>
      )}
    </g>
  );
}

function ChangeTick({ x, y, payload }: any) {
  const v = payload.value;
  const major = v % 10 === 0;
  return (
    <g>
      <line x1={x} x2={x} y1={y} y2={y + (major ? 5 : 4)} stroke={AXIS_BLUE} strokeWidth={2} />
      {major && (
        <text x={x} y={y + 11} textAnchor="middle" fill={TEXT_BLUE} fontSize={10} fontFamily={FONT}>
          {v}
        </text>
      )}
    </g>
  );
}

interface PanelProps {
  title: string;
  titleX: number;
  titleY: number;
  legendCols: number[];
  legendRows: number[];
  left: number;
  width: number;
  plotLeft: number;
  plotRight: number;
  plotTop: number;
  plotBottom: number;
  xDomain: [number, number];
  xTicks: number[];
  depths: number[];
  series: number[][];
  dates: string[];
  depthLabelX: number;
  depthLabelY: number;
  changeLabelX: number;
}

const CHART_TOP = 90;
const CHART_H = 542;

function LegendSwatch({ kind, color }: { kind: MarkerKind; color: string }) {
  return (
    <svg width={22} height={10} style={{ display: 'block' }}>
      <line x1={0} x2={22} y1={5} y2={5} stroke={color} strokeWidth={3} />
      <Marker kind={kind} color={color} cx={11} cy={5} />
    </svg>
  );
}

function Panel(p: PanelProps) {
  const yMax = p.depths[p.depths.length - 1];
  const yTicks = [0, ...p.depths];
  const margin = {
    top: p.plotTop - CHART_TOP - 1,
    right: p.left + p.width - p.plotRight - 1,
    bottom: 0,
    left: 0,
  };
  return (
    <>
      <div
        style={{
          position: 'absolute', left: p.titleX, top: p.titleY, transform: 'translate(-50%, -50%)',
          fontSize: 12, color: '#2a2a2a', whiteSpace: 'nowrap',
        }}
      >
        {p.title}
      </div>
      {p.dates.map((date, i) => (
        <div
          key={date + i}
          style={{
            position: 'absolute', left: p.legendCols[i % 3], top: p.legendRows[Math.floor(i / 3)] - 5,
            display: 'flex', alignItems: 'center', height: 10,
          }}
        >
          <LegendSwatch kind={SERIES_STYLE[i].marker} color={SERIES_STYLE[i].color} />
          <span style={{ marginLeft: 2, fontSize: 8, color: '#222', whiteSpace: 'nowrap' }}>{date}</span>
        </div>
      ))}
      <div style={{ position: 'absolute', left: p.left, top: CHART_TOP }}>
        <ScatterChart width={p.width} height={CHART_H} margin={margin}>
          <CartesianGrid stroke="#dedede" strokeWidth={1} />
          <XAxis
            type="number"
            dataKey="x"
            domain={p.xDomain}
            ticks={p.xTicks}
            interval={0}
            allowDataOverflow
            tick={<ChangeTick />}
            tickLine={false}
            tickMargin={0}
            height={CHART_TOP + CHART_H - p.plotBottom}
            axisLine={{ stroke: AXIS_BLUE, strokeWidth: 3 }}
          />
          <XAxis
            xAxisId="top"
            orientation="top"
            type="number"
            domain={p.xDomain}
            tick={false}
            tickLine={false}
            height={1}
            axisLine={{ stroke: '#b4b4b4', strokeWidth: 1.5 }}
          />
          <YAxis
            type="number"
            dataKey="y"
            domain={[0, yMax]}
            reversed
            ticks={yTicks}
            interval={0}
            tick={<DepthTick />}
            tickLine={false}
            tickMargin={0}
            width={p.plotLeft - p.left}
            axisLine={{ stroke: AXIS_BLUE, strokeWidth: 3 }}
          />
          <YAxis
            yAxisId="right"
            orientation="right"
            type="number"
            domain={[0, yMax]}
            tick={false}
            tickLine={false}
            width={1}
            axisLine={{ stroke: '#b4b4b4', strokeWidth: 2 }}
          />
          {p.series.map((vals, si) => {
            const st = SERIES_STYLE[si];
            const data = p.depths.map((d, i) => ({ x: vals[i], y: d }));
            return (
              <Scatter
                key={p.dates[si] + si}
                name={p.dates[si]}
                data={data}
                line={{ stroke: st.color, strokeWidth: 1 }}
                shape={(sp: any) => <Marker kind={st.marker} color={st.color} cx={sp.cx} cy={sp.cy} />}
                isAnimationActive={false}
              />
            );
          })}
        </ScatterChart>
      </div>
      <div
        style={{
          position: 'absolute', left: p.depthLabelX, top: p.depthLabelY,
          transform: 'translate(-50%, -50%) rotate(-90deg)', fontSize: 10, color: TEXT_BLUE, whiteSpace: 'nowrap',
        }}
      >
        Depth in Meters
      </div>
      <div
        style={{
          position: 'absolute', left: p.changeLabelX, top: 622, lineHeight: '10px',
          transform: 'translate(-50%, -50%)', fontSize: 9.5, color: TEXT_BLUE, whiteSpace: 'nowrap',
        }}
      >
        Profile Change in mm
      </div>
    </>
  );
}

const IN3A_SERIES = [A_1208, A_2011, A_2911, A_0712, A_1412, A_2012, A_2712, A_0601, A_1801, A_2401, A_0102];
const IN3B_SERIES = [B_1208, B_2011, B_2911, B_0712, B_1412, B_2012, B_2712, B_0601, B_1801, B_2401, B_0102];
const IN4A_SERIES = [C_1508, C_2011, C_2911, C_0712, C_1412, C_2012, C_2712, C_0601, C_1801, C_2401, C_0102];
const IN4B_SERIES = [D_1508, D_2011, D_2911, D_0712, D_1412, D_2012, D_2712, D_0601, D_1801, D_2401, D_0102];

export default function App() {
  return (
    <div
      style={{
        position: 'absolute', left: 0, top: 0, width: 899, height: 632, background: '#fff',
        overflow: 'hidden', fontFamily: FONT,
      }}
    >
      <Panel
        title="216TDH IN3 A" titleX={112} titleY={14}
        legendCols={[9, 80, 150]} legendRows={[38, 48.5, 59, 69.5]}
        left={0} width={225} plotLeft={49} plotRight={210} plotTop={101} plotBottom={598}
        xDomain={[-7.5, 32.5]} xTicks={X_TICKS_IN3A}
        depths={DEPTH_IN3} series={IN3A_SERIES} dates={DATES_IN3}
        depthLabelX={22} depthLabelY={350} changeLabelX={130}
      />
      <Panel
        title="216TDH IN3 B" titleX={348} titleY={14}
        legendCols={[246, 315, 387]} legendRows={[38, 48.5, 59, 69.5]}
        left={240} width={215} plotLeft={286} plotRight={440} plotTop={101} plotBottom={598}
        xDomain={[-20, 20]} xTicks={X_TICKS}
        depths={DEPTH_IN3} series={IN3B_SERIES} dates={DATES_IN3}
        depthLabelX={258} depthLabelY={350} changeLabelX={362}
      />
      <Panel
        title="216TDH IN4 A" titleX={573} titleY={13}
        legendCols={[475, 542, 609]} legendRows={[36, 46.7, 57.3, 67.7]}
        left={465} width={210} plotLeft={512} plotRight={660} plotTop={100} plotBottom={596}
        xDomain={[-20, 20]} xTicks={X_TICKS}
        depths={DEPTH_IN4} series={IN4A_SERIES} dates={DATES_IN4}
        depthLabelX={488} depthLabelY={330} changeLabelX={586}
      />
      <Panel
        title="216TDH IN4 B" titleX={799} titleY={12.5}
        legendCols={[700, 768, 834]} legendRows={[35, 45.7, 56.7, 67.3]}
        left={690} width={209} plotLeft={738} plotRight={884} plotTop={100} plotBottom={596}
        xDomain={[-20, 20]} xTicks={X_TICKS}
        depths={DEPTH_IN4} series={IN4B_SERIES} dates={DATES_IN4}
        depthLabelX={712} depthLabelY={330} changeLabelX={812}
      />
    </div>
  );
}
